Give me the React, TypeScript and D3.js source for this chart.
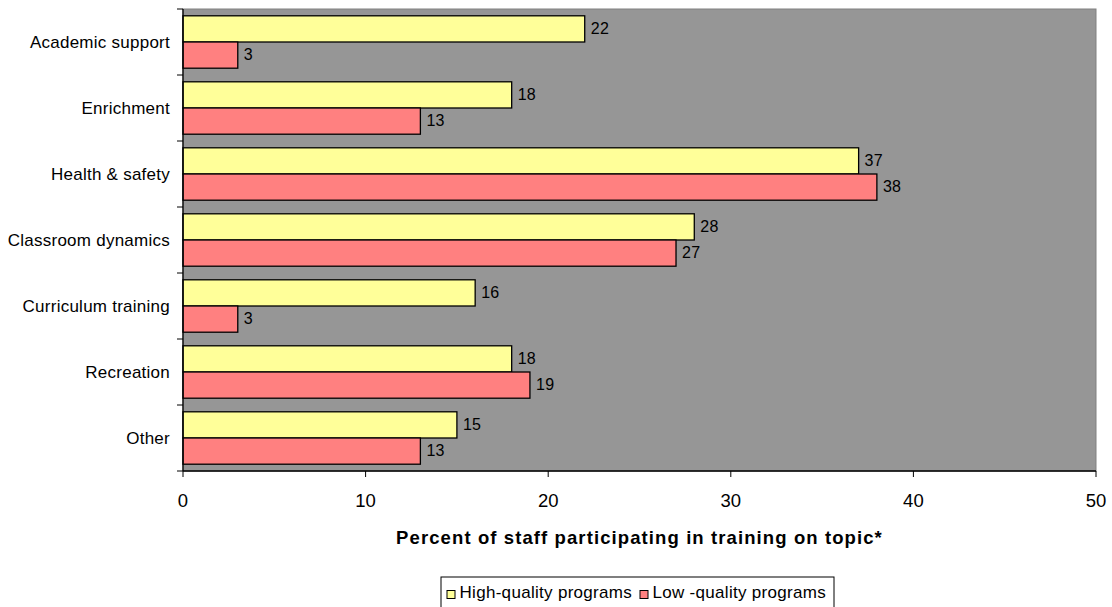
import React from "react";
import * as d3 from "d3";

const categories = [
  "Academic support",
  "Enrichment",
  "Health & safety",
  "Classroom dynamics",
  "Curriculum training",
  "Recreation",
  "Other",
];
const highQuality = [22, 18, 37, 28, 16, 18, 15];
const lowQuality = [3, 13, 38, 27, 3, 19, 13];
const seriesNames = ["High-quality programs", "Low -quality programs"];
const seriesColors = ["#FFFF99", "#FF8080"];
const xTicks = [0, 10, 20, 30, 40, 50];

const W = 1112;
const H = 607;
const left = 183;
const right = 1096;
const top = 9;
const bottom = 471;
const font = "Arial, 'Liberation Sans', sans-serif";

export default function App() {
  const x = d3.scaleLinear().domain([0, 50]).range([left, right]);
  const y = d3
    .scaleBand<string>()
    .domain(categories)
    .range([top, bottom])
    .paddingInner(0)
    .paddingOuter(0);
  const bw = y.bandwidth();
  const groupPad = 6.8;
  const inner = d3
    .scaleBand<number>()
    .domain([0, 1])
    .range([groupPad, bw - groupPad]);
  const series = [highQuality, lowQuality];

  const bandEdges = categories.map((c) => y(c) as number).concat([bottom]);
  const legendX = [447, 640];

  return (
    <svg
      width={W}
      height={H}
      style={{ position: "absolute", left: 0, top: 0, background: "#fff" }}
    >
      <rect x={left} y={top} width={right - left} height={bottom - top} fill="#969696" stroke="#808080" strokeWidth={1} />
      {categories.map((c, i) =>
        series.map((s, k) => {
          const by = (y(c) as number) + (inner(k) as number);
          const v = s[i];
          return (
            <g key={c + k}>
              <rect
                x={x(0)}
                y={by}
                width={x(v) - x(0)}
                height={inner.bandwidth()}
                fill={seriesColors[k]}
                stroke="#000"
                strokeWidth={1.3}
              />
              <text
                x={x(v) + 6}
                y={by + inner.bandwidth() / 2 + 5}
                fontFamily={font}
                fontSize={16}
                letterSpacing={0.3}
                fill="#000"
              >
                {v}
              </text>
            </g>
          );
        })
      )}
      {/* left axis */}
      <line x1={left} x2={left} y1={top} y2={bottom} stroke="#000" strokeWidth={1.3} />
      {bandEdges.map((e, i) => (
        <line key={i} x1={left - 6} x2={left} y1={e} y2={e} stroke="#000" strokeWidth={1} />
      ))}
      {categories.map((c) => (
        <text
          key={c}
          x={170}
          y={(y(c) as number) + bw / 2 + 6}
          textAnchor="end"
          fontFamily={font}
          fontSize={17}
          letterSpacing={0.25}
          fill="#000"
        >
          {c}
        </text>
      ))}
      {/* bottom axis */}
      <line x1={left} x2={right} y1={bottom} y2={bottom} stroke="#000" strokeWidth={1.3} />
      {xTicks.map((t) => (
        <g key={t}>
          <line x1={x(t)} x2={x(t)} y1={bottom} y2={bottom + 6} stroke="#000" strokeWidth={1} />
          <text
            x={x(t)}
            y={507}
            textAnchor="middle"
            fontFamily={font}
            fontSize={18.5}
            fill="#000"
          >
            {t}
          </text>
        </g>
      ))}
      <text
        x={(left + right) / 2}
        y={544}
        textAnchor="middle"
        fontFamily={font}
        fontSize={18.5}
        fontWeight="bold"
        letterSpacing={1.1}
        fill="#000"
      >
        Percent of staff participating in training on topic*
      </text>
      {/* legend */}
      <rect x={441} y={577} width={393} height={40} fill="#fff" stroke="#000" strokeWidth={1} />
      {seriesNames.map((n, k) => {
        const lx = legendX[k];
        return (
          <g key={n}>
            <rect x={lx} y={590.5} width={8} height={8} fill={seriesColors[k]} stroke="#000" strokeWidth={1} />
            <text x={lx + 12.5} y={598} fontFamily={font} fontSize={17} letterSpacing={0.3} fill="#000">
              {n}
            </text>
          </g>
        );
      })}
    </svg>
  );
}
